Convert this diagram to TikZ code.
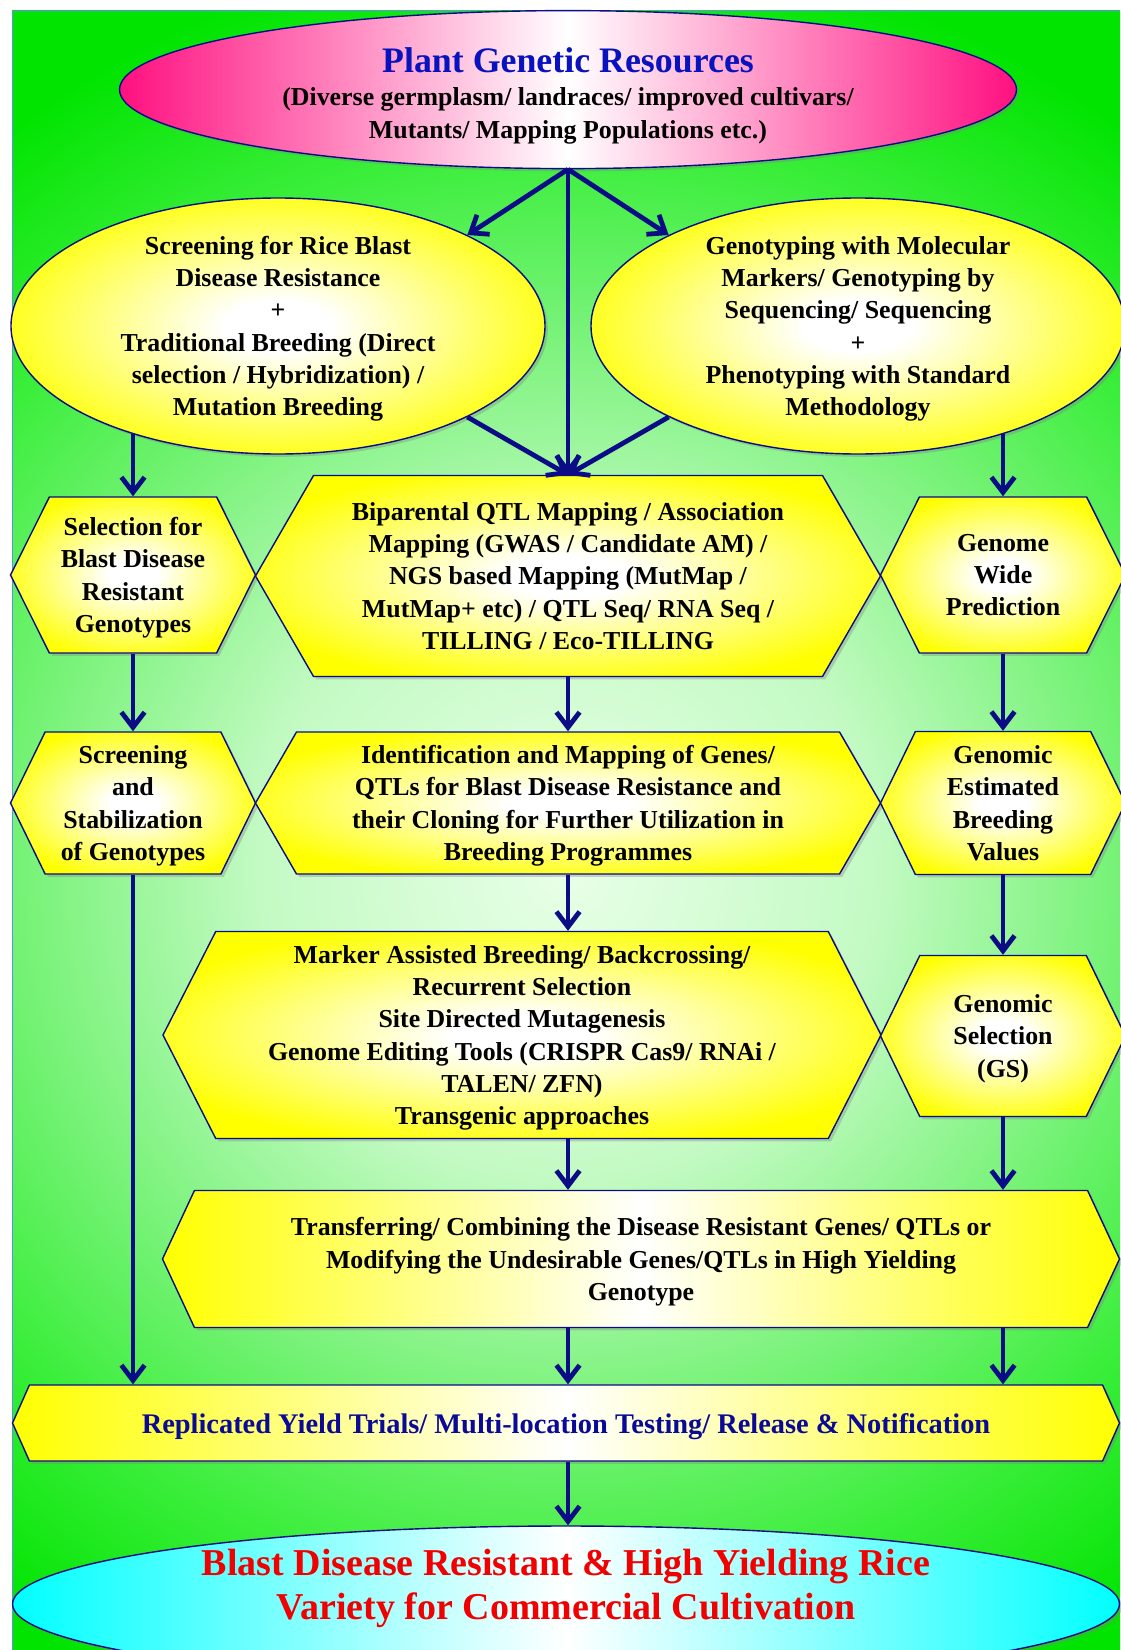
\documentclass[tikz,border=0pt]{standalone}
\usepackage{fontspec}
\setmainfont{Liberation Serif}
\usepackage{tikz}
\usepackage{xcolor}
\usetikzlibrary{arrows.meta,shapes.geometric,shapes.symbols,shadows}

\definecolor{navyline}{RGB}{12,12,135}
\definecolor{titleblue}{RGB}{8,18,190}
\definecolor{repblue}{RGB}{10,10,150}
\definecolor{resred}{RGB}{240,0,0}
\definecolor{hotpink}{RGB}{255,16,128}
\definecolor{aqua}{RGB}{0,255,255}
\definecolor{bgpale}{RGB}{232,255,232}
\definecolor{bglight}{RGB}{195,250,195}
\definecolor{bgmid}{RGB}{115,242,115}
\definecolor{bgdeep}{RGB}{60,238,60}
\definecolor{bggreen}{RGB}{0,228,0}
\definecolor{frameblue}{RGB}{90,150,220}

% path box half size = 25bp
\pgfdeclareradialshading{bgglow}{\pgfpoint{0bp}{0bp}}{color(0bp)=(bgpale); color(7.5bp)=(bglight); color(13.5bp)=(bgmid); color(17.5bp)=(bgdeep); color(22.5bp)=(bggreen); color(50bp)=(bggreen)}
\pgfdeclareradialshading{ylglow}{\pgfpoint{0bp}{0bp}}{color(0bp)=(white); color(5bp)=(white); color(28bp)=(yellow); color(50bp)=(yellow)}

\begin{document}
\begin{tikzpicture}[
  box/.style={draw=navyline, line width=1pt, align=center, text depth=0pt,
    font=\bfseries\fontsize{18.4}{23}\selectfont,
    drop shadow={shadow xshift=2pt, shadow yshift=-2pt, opacity=0.35}},
  oval/.style={box, ellipse, inner sep=0pt, inner ysep=-20pt},
  hexa/.style={box, signal, signal to=east and west, inner sep=2pt, shade, shading=ylglow},
  band/.style={box, signal, signal to=east and west, inner sep=2pt,
    left color=yellow, right color=yellow, middle color=white},
  flow/.style={draw=navyline, line width=3.4pt, -{Straight Barb[length=3.8mm, width=5.8mm]}}
]
\useasboundingbox (0,0) rectangle (28,-41.25);

% background
\begin{scope}
\clip (0.3,-0.275) rectangle (28,-41.25);
\shade[shading=bgglow] (14.2,-21.75) circle (25.8);
\end{scope}
\draw[frameblue, line width=0.6pt] (0.3,-41.25) -- (0.3,-0.275) -- (28,-0.275);

% top
\node[oval, minimum width=22.425cm, minimum height=3.95cm,
  left color=hotpink, right color=hotpink, middle color=white] (pgr) at (14.2,-2.24)
  {{\fontsize{25.5}{30}\selectfont\color{titleblue}\rule{0pt}{22pt}Plant Genetic Resources}\\[1pt]
   (Diverse germplasm/ landraces/ improved cultivars/\\Mutants/ Mapping Populations etc.)};

\node[oval, shade, shading=ylglow, minimum width=13.35cm, minimum height=6.4cm] (scr) at (6.95,-8.15)
  {Screening for Rice Blast\\Disease Resistance\\+\\Traditional Breeding (Direct\\selection / Hybridization) /\\Mutation Breeding};
\node[oval, shade, shading=ylglow, minimum width=13.35cm, minimum height=6.4cm] (gen) at (21.45,-8.15)
  {Genotyping with Molecular\\Markers/ Genotyping by\\Sequencing/ Sequencing\\+\\Phenotyping with Standard\\Methodology};

% row 1
\node[hexa, minimum width=6.125cm, minimum height=3.9cm, signal pointer angle=127] (sel) at (3.325,-14.375)
  {Selection for\\Blast Disease\\Resistant\\Genotypes};
\node[hexa, minimum width=15.625cm, minimum height=5.025cm, signal pointer angle=120] (bip) at (14.2,-14.4)
  {Biparental QTL Mapping / Association\\Mapping (GWAS / Candidate AM) /\\NGS based Mapping (MutMap /\\MutMap+ etc) / QTL Seq/ RNA Seq /\\TILLING / Eco-TILLING};
\node[hexa, minimum width=6.125cm, minimum height=3.9cm, signal pointer angle=127] (gwp) at (25.075,-14.375)
  {Genome\\Wide\\Prediction};

% row 2
\node[hexa, minimum width=6.125cm, minimum height=3.55cm, signal pointer angle=128] (stb) at (3.325,-20.075)
  {Screening\\and\\Stabilization\\of Genotypes};
\node[hexa, minimum width=15.625cm, minimum height=3.55cm, signal pointer angle=120] (idm) at (14.2,-20.075)
  {Identification and Mapping of Genes/\\QTLs for Blast Disease Resistance and\\their Cloning for Further Utilization in\\Breeding Programmes};
\node[hexa, minimum width=6.125cm, minimum height=3.575cm, signal pointer angle=128] (gebv) at (25.075,-20.075)
  {Genomic\\Estimated\\Breeding\\Values};

% row 3
\node[hexa, minimum width=17.95cm, minimum height=5.175cm, signal pointer angle=126] (mab) at (13.05,-25.875)
  {Marker Assisted Breeding/ Backcrossing/\\Recurrent Selection\\Site Directed Mutagenesis\\Genome Editing Tools (CRISPR Cas9/ RNAi /\\TALEN/ ZFN)\\Transgenic approaches};
\node[hexa, minimum width=6.125cm, minimum height=4.025cm, signal pointer angle=128] (gs) at (25.075,-25.9)
  {Genomic\\Selection\\(GS)};

\node[band, minimum width=23.925cm, minimum height=3.425cm, signal pointer angle=130] (trf) at (16.025,-31.475)
  {Transferring/ Combining the Disease Resistant Genes/ QTLs or\\Modifying the Undesirable Genes/QTLs in High Yielding\\Genotype};
\node[band, minimum width=27.675cm, minimum height=1.9cm, signal pointer angle=132, text=repblue,
  font=\bfseries\fontsize{20.2}{24}\selectfont] (rep) at (14.15,-35.575)
  {Replicated Yield Trials/ Multi-location Testing/ Release \& Notification};

% bottom
\node[oval, minimum width=27.675cm, minimum height=3.9cm, left color=aqua, right color=aqua, middle color=white,
  text=resred, font=\bfseries\fontsize{27}{31.3}\selectfont] (res) at (14.15,-40.1)
  {\raisebox{4.6pt}[0pt][0pt]{\begin{tabular}{@{}c@{}}Blast Disease Resistant \& High Yielding Rice\\Variety for Commercial Cultivation\end{tabular}}};

% arrows
\draw[flow] (pgr.south) -- (scr.north east);
\draw[flow] (pgr.south) -- (gen.north west);
\draw[flow] (pgr.south) -- (bip.north);
\draw[flow] (scr.south east) -- (bip.north);
\draw[flow] (gen.south west) -- (bip.north);
\draw[flow] (scr.217 -| sel.north) -- (sel.north);
\draw[flow] (gen.323 -| gwp.north) -- (gwp.north);

\draw[flow] (sel.south) -- (stb.north);
\draw[flow] (bip.south) -- (idm.north);
\draw[flow] (gwp.south) -- (gebv.north);

\draw[flow] (stb.south) -- (stb.south |- rep.north);
\draw[flow] (idm.south) -- (idm.south |- mab.north);
\draw[flow] (gebv.south) -- (gs.north);

\draw[flow] (idm.south |- mab.south) -- (idm.south |- trf.north);
\draw[flow] (gs.south) -- (gs.south |- trf.north);
\draw[flow] (idm.south |- trf.south) -- (idm.south |- rep.north);
\draw[flow] (gs.south |- trf.south) -- (gs.south |- rep.north);
\draw[flow] (idm.south |- rep.south) -- (idm.south |- res.north);

\end{tikzpicture}
\end{document}
